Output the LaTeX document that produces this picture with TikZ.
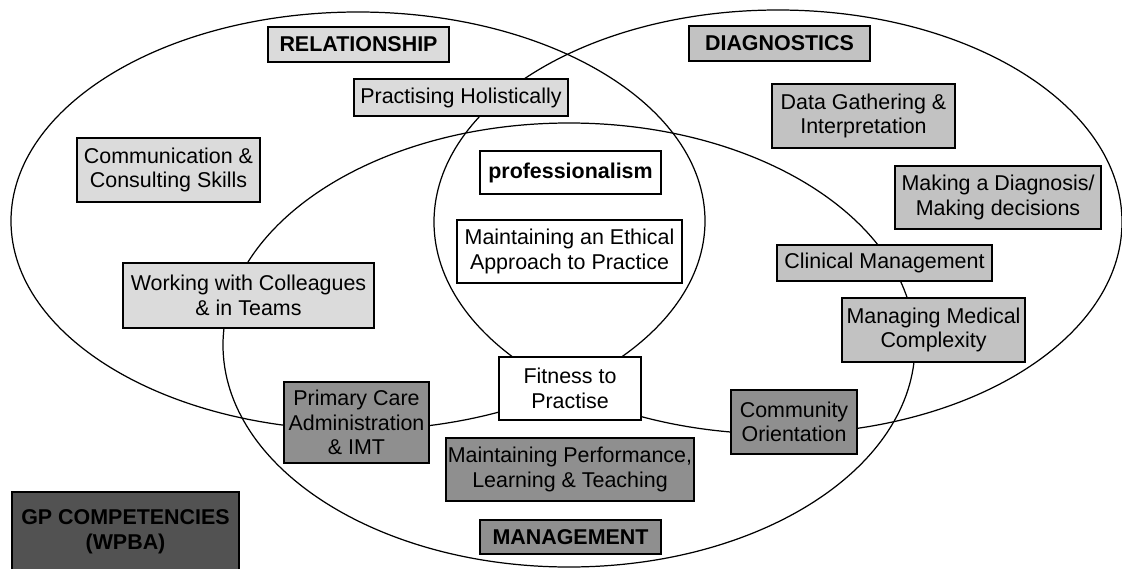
\documentclass[tikz,border=0pt]{standalone}
\usepackage{fontspec}
\setmainfont{Liberation Sans}
\usepackage{xcolor}
\usepackage{tikz}
\usetikzlibrary{positioning}

\newlength\pxl
\setlength\pxl{0.02cm}
\newcommand\boxfont{\fontsize{12.2}{14}\selectfont}
\definecolor{lightgrey}{gray}{0.86}
\definecolor{midgrey}{gray}{0.76}
\definecolor{darkgrey}{gray}{0.56}
\definecolor{deepgrey}{gray}{0.32}

\begin{document}
\begin{tikzpicture}[x=0.02cm, y=-0.02cm,
    font=\boxfont,
    box/.style={draw, line width=0.8pt, align=center, inner sep=1pt},
    title/.style={font=\boxfont\bfseries},
    whitebox/.style={box, fill=white},
    lightbox/.style={box, fill=lightgrey},
    midbox/.style={box, fill=midgrey},
    darkbox/.style={box, fill=darkgrey},
    deepbox/.style={box, fill=deepgrey}]
        \useasboundingbox (0,0) rectangle (1122,568);

        % Domains
        \foreach \cx/\cy/\rx/\ry in {358/221/347/209, 778/222/344/212, 569/345/346/222} {
          \draw[line width=0.7pt] (\cx,\cy) ellipse [x radius=\rx, y radius=\ry];
        }

        % Relationship
        \node[lightbox, title, minimum width=181\pxl, minimum height=35\pxl] (relationship) at (358.5,44.5) {RELATIONSHIP};
        \node[lightbox, minimum width=214\pxl, minimum height=37\pxl] (holistic) at (461,97.5) {Practising Holistically};
        \node[lightbox, minimum width=183\pxl, minimum height=64\pxl] (communication) at (168.5,170) {Communication \&\\Consulting Skills};
        \node[lightbox, minimum width=251\pxl, minimum height=65\pxl] (colleagues) at (248.5,295.5) {Working with Colleagues\\\& in Teams};

        % Professionalism
        \node[whitebox, title, minimum width=181\pxl, minimum height=43\pxl] (professionalism) at (570.5,172.5) {professionalism};
        \node[whitebox, minimum width=225\pxl, minimum height=63\pxl] (ethical) at (569.5,251.5) {Maintaining an Ethical\\Approach to Practice};
        \node[whitebox, minimum width=142\pxl, minimum height=63\pxl] (fitness) at (570,388.5) {Fitness to\\Practise};

        % Diagnostics
        \node[midbox, title, minimum width=181\pxl, minimum height=35\pxl] (diagnostics) at (779.5,43.5) {DIAGNOSTICS};
        \node[midbox, minimum width=183\pxl, minimum height=64\pxl] (gathering) at (863.5,116) {Data Gathering \&\\Interpretation};
        \node[midbox, minimum width=206\pxl, minimum height=63\pxl] (decisions) at (998,197.5) {Making a Diagnosis/\\Making decisions};
        \node[midbox, minimum width=215\pxl, minimum height=36\pxl] (clinical) at (884.5,263) {Clinical Management};
        \node[midbox, minimum width=183\pxl, minimum height=64\pxl] (complexity) at (933.5,330) {Managing Medical\\Complexity};

        % Management
        \node[darkbox, minimum width=145\pxl, minimum height=81\pxl] (primary) at (356.5,422.5) {Primary Care\\Administration\\\& IMT};
        \node[darkbox, minimum width=238\pxl, minimum height=63\pxl] (performance) at (570,469.5) {Maintaining Performance,\\Learning \& Teaching};
        \node[darkbox, title, minimum width=181\pxl, minimum height=34\pxl] (management) at (570.5,537) {MANAGEMENT};
        \node[darkbox, minimum width=126\pxl, minimum height=64\pxl] (community) at (794,422) {Community\\Orientation};

        \node[deepbox, title, minimum width=227\pxl, minimum height=80\pxl] (competencies) at (125.5,532) {GP COMPETENCIES\\(WPBA)};
      \end{tikzpicture}
\end{document}
